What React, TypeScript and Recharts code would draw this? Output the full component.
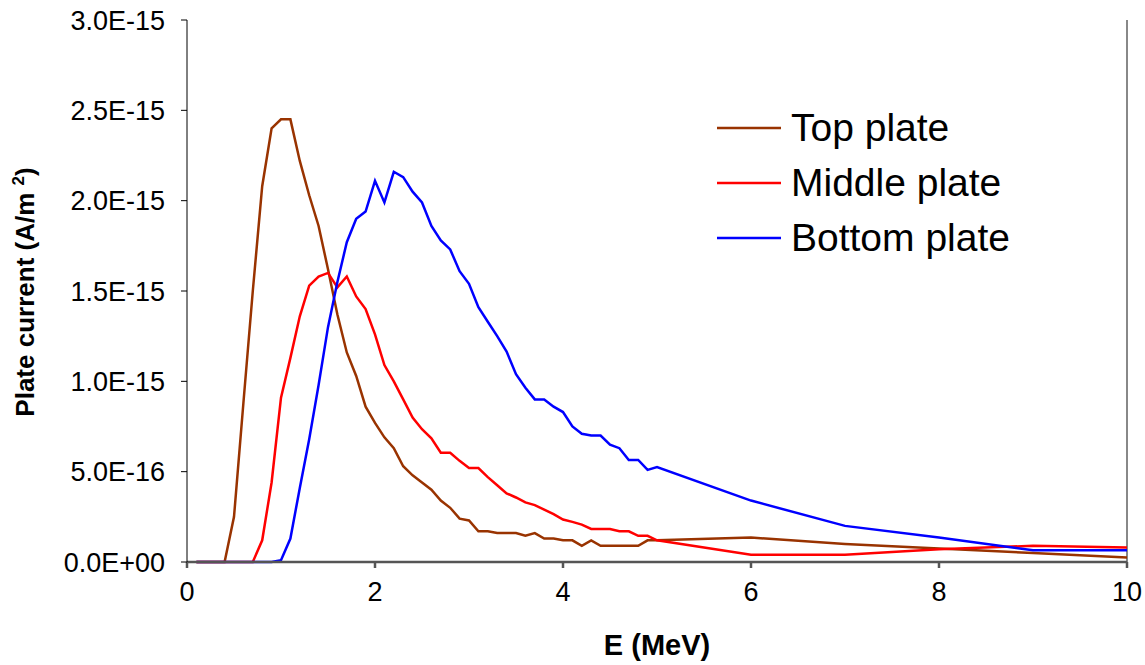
import { LineChart, Line, XAxis, YAxis, Legend, ReferenceLine } from 'recharts'

// energy grid (MeV)
const energy = [
  0.1, 0.2, 0.3, 0.4, 0.5, 0.6, 0.7, 0.8, 0.9, 1.0,
  1.1, 1.2, 1.3, 1.4, 1.5, 1.6, 1.7, 1.8, 1.9, 2.0,
  2.1, 2.2, 2.3, 2.4, 2.5, 2.6, 2.7, 2.8, 2.9, 3.0,
  3.1, 3.2, 3.3, 3.4, 3.5, 3.6, 3.7, 3.8, 3.9, 4.0,
  4.1, 4.2, 4.3, 4.4, 4.5, 4.6, 4.7, 4.8, 4.9, 5.0,
  6, 7, 8, 9, 10,
]

// plate currents, in units of 1E-15 A/m2
const topPlate = [
  0, 0, 0, 0, 0.25, 0.88, 1.5, 2.08, 2.4, 2.45,
  2.45, 2.22, 2.03, 1.86, 1.62, 1.37, 1.16, 1.03, 0.86, 0.77,
  0.69, 0.63, 0.53, 0.48, 0.44, 0.4, 0.34, 0.3, 0.24, 0.23,
  0.17, 0.17, 0.16, 0.16, 0.16, 0.145, 0.16, 0.13, 0.13, 0.12,
  0.12, 0.09, 0.12, 0.09, 0.09, 0.09, 0.09, 0.09, 0.12, 0.12,
  0.135, 0.1, 0.075, 0.05, 0.025,
]
const middlePlate = [
  0, 0, 0, 0, 0, 0, 0, 0.12, 0.44, 0.91,
  1.13, 1.36, 1.53, 1.58, 1.6, 1.52, 1.58, 1.47, 1.4, 1.26,
  1.09, 1.0, 0.9, 0.8, 0.735, 0.685, 0.605, 0.605, 0.56, 0.52,
  0.52, 0.47, 0.425, 0.38, 0.357, 0.33, 0.315, 0.29, 0.265, 0.235,
  0.222, 0.207, 0.183, 0.183, 0.183, 0.17, 0.17, 0.145, 0.145, 0.12,
  0.04, 0.04, 0.07, 0.09, 0.08,
]
const bottomPlate = [
  0, 0, 0, 0, 0, 0, 0, 0, 0, 0.01,
  0.13, 0.41, 0.68, 0.98, 1.3, 1.55, 1.77, 1.9, 1.94, 2.11,
  1.99, 2.16, 2.13, 2.05, 1.99, 1.86, 1.78, 1.73, 1.61, 1.54,
  1.41, 1.33, 1.25, 1.165, 1.04, 0.965, 0.9, 0.9, 0.86, 0.83,
  0.75, 0.71, 0.7, 0.7, 0.65, 0.63, 0.565, 0.565, 0.51, 0.525,
  0.34, 0.2, 0.135, 0.065, 0.065,
]

const xTicks = [0, 2, 4, 6, 8, 10]
const yTicks = [0, 0.5e-15, 1e-15, 1.5e-15, 2e-15, 2.5e-15, 3e-15]

const SCALE = 1e-15
const data = energy.map((e, i) => ({
  e,
  top: topPlate[i] * SCALE,
  middle: middlePlate[i] * SCALE,
  bottom: bottomPlate[i] * SCALE,
}))

const series = [
  { key: 'top', name: 'Top plate', color: '#993300' },
  { key: 'middle', name: 'Middle plate', color: '#ff0000' },
  { key: 'bottom', name: 'Bottom plate', color: '#0000ff' },
]

const FONT = 'Arial, "Liberation Sans", sans-serif'

const sci = (v: number) =>
  v.toExponential(1).toUpperCase().replace(/E([+-])(\d)$/, 'E$10$2')

function YTitle() {
  return (
    <text
      x={34}
      y={292}
      transform="rotate(-90, 34, 292)"
      textAnchor="middle"
      fontFamily={FONT}
      fontWeight="bold"
      fontSize={26}
      fill="#000"
    >
      Plate current (A/m <tspan dy={-10} fontSize={17}>2</tspan>
      <tspan dy={10}>)</tspan>
    </text>
  )
}

function LegendBox() {
  return (
    <div style={{ fontFamily: FONT, fontSize: 39, color: '#000', lineHeight: 1 }}>
      {series.map((s) => (
        <div key={s.key} style={{ display: 'flex', alignItems: 'center', height: 55 }}>
          <svg width={76} height={10}>
            <line x1={2} y1={5} x2={66} y2={5} stroke={s.color} strokeWidth={2.5} />
          </svg>
          <span>{s.name}</span>
        </div>
      ))}
    </div>
  )
}

export default function App() {
  return (
    <div style={{ position: 'absolute', left: 0, top: 0, background: '#fff' }}>
      <LineChart
        width={1145}
        height={665}
        data={data}
        margin={{ top: 20, right: 18, bottom: 0, left: 0 }}
      >
        <XAxis
          dataKey="e"
          type="number"
          domain={[0, 10]}
          ticks={xTicks}
          stroke="#555"
          strokeWidth={2.5}
          tickSize={6}
          tickMargin={14}
          height={103}
          tick={{ fill: '#000', fontSize: 27, fontFamily: FONT }}
          label={{
            value: 'E (MeV)',
            position: 'insideBottom',
            offset: 10,
            fill: '#000',
            fontSize: 29,
            fontWeight: 'bold',
            fontFamily: FONT,
          }}
        />
        <YAxis
          type="number"
          domain={[0, 3e-15]}
          ticks={yTicks}
          tickFormatter={sci}
          width={187}
          stroke="#000"
          tickSize={6}
          tickMargin={16}
          tick={{ fill: '#000', fontSize: 27, fontFamily: FONT }}
          label={<YTitle />}
        />
        <ReferenceLine x={10} stroke="#888" strokeWidth={2} />
        {series.map((s) => (
          <Line
            key={s.key}
            type="linear"
            dataKey={s.key}
            name={s.name}
            stroke={s.color}
            strokeWidth={2.5}
            dot={false}
            isAnimationActive={false}
          />
        ))}
        <Legend
          layout="horizontal"
          verticalAlign="middle"
          align="center"
          wrapperStyle={{ left: 715, top: 100, width: 420 }}
          content={<LegendBox />}
        />
      </LineChart>
    </div>
  )
}
